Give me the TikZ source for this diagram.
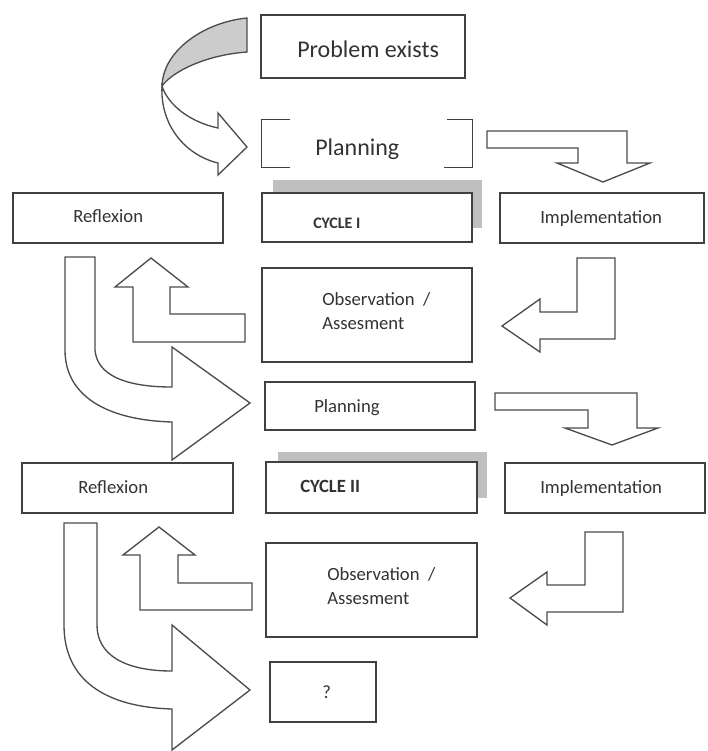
\documentclass[tikz,border=0pt]{standalone}
\usepackage{fontspec}
\setmainfont{Carlito}
\usepackage{tikz}

\begin{document}
\begin{tikzpicture}[x=0.75pt,y=-0.75pt,
    caja/.style={draw=black!75,line width=1.1pt,fill=white,inner sep=0pt},
    sombra/.style={fill=black!25},
    flecha/.style={draw=black!70,line width=1pt,fill=white},
    texto/.style={anchor=base west,inner sep=0pt,text=black!80},
    grande/.style={font=\fontsize{18}{21}\selectfont},
    chica/.style={font=\fontsize{14}{18}\selectfont}]
  \useasboundingbox (0,0) rectangle (708,751);
  % sombras de los ciclos
  \fill[sombra] (273,180) rectangle (482,228);
  \fill[sombra] (278,452) rectangle (487,498);
  % cajas
  \node[caja,minimum width=153pt,minimum height=47.25pt] (problema) at (363,46.5) {};
  \node[inner sep=0pt,minimum width=157.5pt,minimum height=35.25pt] (plan1) at (367,143.5) {};
  \draw[draw=black!75,line width=1.1pt] ([xshift=21pt]plan1.north west) -| (plan1.south west) -- ++(21pt,0);
  \draw[draw=black!75,line width=1.1pt] ([xshift=-19pt]plan1.north east) -| (plan1.south east) -- ++(-21pt,0);
  \node[caja,minimum width=157.5pt,minimum height=36.75pt] (ciclo1) at (367,217.5) {};
  \node[caja,minimum width=157.5pt,minimum height=37.5pt] (refl1) at (118,218) {};
  \node[caja,minimum width=153pt,minimum height=37.5pt] (impl1) at (602,218) {};
  \node[caja,minimum width=157.5pt,minimum height=70.5pt] (obs1) at (367,315) {};
  \node[caja,minimum width=157.5pt,minimum height=36pt] (plan2) at (370,406) {};
  \node[caja,minimum width=158.25pt,minimum height=38.25pt] (ciclo2) at (371.5,487.5) {};
  \node[caja,minimum width=158.25pt,minimum height=37.5pt] (refl2) at (127.5,488) {};
  \node[caja,minimum width=150pt,minimum height=37.5pt] (impl2) at (605,488) {};
  \node[caja,minimum width=158.25pt,minimum height=70.5pt] (obs2) at (371.5,590) {};
  \node[caja,minimum width=79.5pt,minimum height=45pt] (fin) at (323,692) {};
  % textos
  \node[texto,grande] (tproblema) at (297,57) {Problem exists};
  \node[texto,grande] (tplan1) at (315,155) {Planning};
  \node[texto,font=\bfseries\fontsize{12}{14}\selectfont] (tciclo1) at (313,228) {CYCLE I};
  \node[texto,chica] (trefl1) at (73,222) {Reflexion};
  \node[texto,chica] (timpl1) at (540,223) {Implementation};
  \node[texto,chica,align=left] (tobs1) at (322,329) {Observation~ /\\Assesment};
  \node[texto,chica] (tplan2) at (314,412) {Planning};
  \node[texto,font=\bfseries\fontsize{14}{16}\selectfont] (tciclo2) at (300,492) {CYCLE II};
  \node[texto,chica] (trefl2) at (78,493) {Reflexion};
  \node[texto,chica] (timpl2) at (540,493) {Implementation};
  \node[texto,chica,align=left] (tobs2) at (327,604) {Observation~ /\\Assesment};
  \node[texto,chica] (tfin) at (322,698) {?};
  % flecha curva de arriba
  \filldraw[flecha,fill=black!20] (247,18) .. controls (205,22) and (163,50) .. (162,86)
    .. controls (172,72) and (205,55) .. (247,52) -- cycle;
  \filldraw[flecha] (162,86) .. controls (160,125) and (185,155) .. (218,163) -- (218,175)
    -- (247,147) -- (218,113) -- (218,128) .. controls (190,122) and (168,105) .. (162,86) -- cycle;
  % ciclo I
  \filldraw[flecha] (487,131) -- (627,131) -- (627,163) -- (650,163) -- (603,182) -- (557,163)
    -- (578,163) -- (578,148) -- (487,148) -- cycle;
  \filldraw[flecha] (577,258) -- (615,258) -- (615,339) -- (540,339) -- (540,352) -- (502,326)
    -- (540,299) -- (540,312) -- (577,312) -- cycle;
  \filldraw[flecha] (245,314) -- (245,342) -- (133,342) -- (133,287) -- (115,287) -- (151,258)
    -- (188,287) -- (170,287) -- (170,314) -- cycle;
  \filldraw[flecha] (65,257) -- (95,257) -- (95,350) .. controls (97,375) and (125,387) .. (172,387)
    -- (172,347) -- (250,403) -- (172,460) -- (172,422) .. controls (105,420) and (65,395) .. (65,350) -- cycle;
  % ciclo II
  \filldraw[flecha] (495,393) -- (637,393) -- (637,428) -- (658,428) -- (612,445) -- (565,428)
    -- (588,428) -- (588,410) -- (495,410) -- cycle;
  \filldraw[flecha] (585,532) -- (623,532) -- (623,612) -- (547,612) -- (547,625) -- (510,598)
    -- (547,572) -- (547,585) -- (585,585) -- cycle;
  \filldraw[flecha] (252,583) -- (252,610) -- (140,610) -- (140,555) -- (123,555) -- (159,527)
    -- (195,555) -- (178,555) -- (178,583) -- cycle;
  \filldraw[flecha] (64,523) -- (97,523) -- (97,625) .. controls (97,655) and (125,671) .. (172,671)
    -- (172,625) -- (250,690) -- (172,750) -- (172,709) .. controls (105,707) and (64,680) .. (64,625) -- cycle;
\end{tikzpicture}
\end{document}
